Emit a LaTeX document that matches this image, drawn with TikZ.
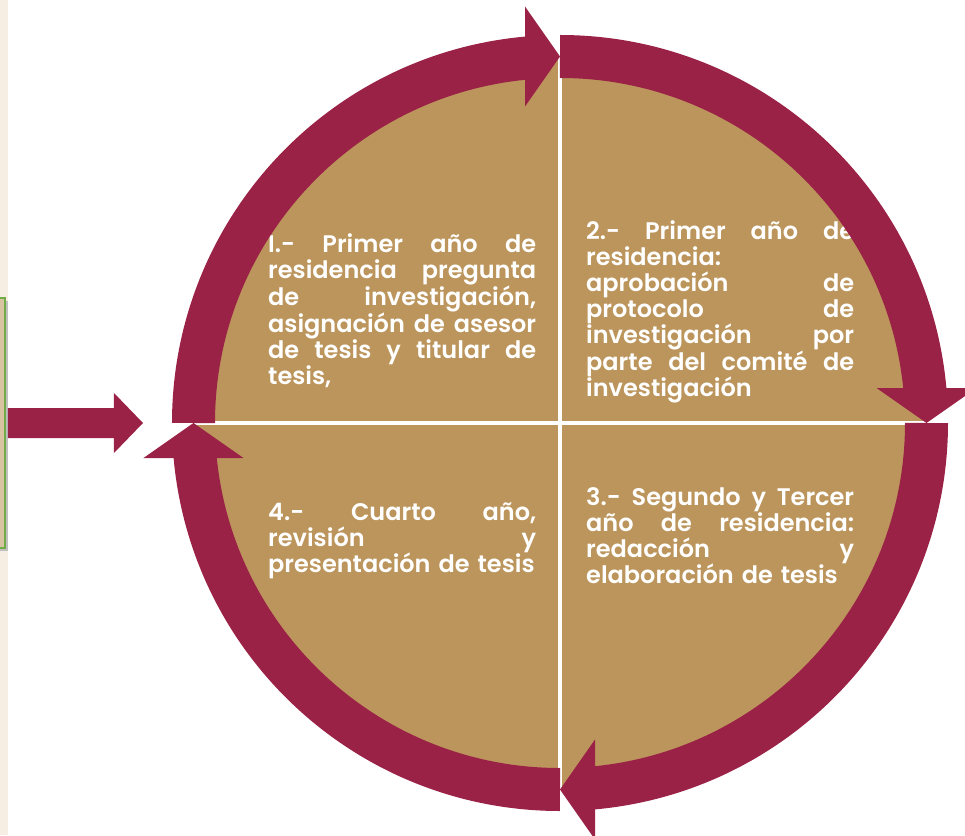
\documentclass[tikz,border=0pt]{standalone}
\usepackage{fontspec}
\usepackage{xcolor}
\newfontfamily\stagefont{Poppins SemiBold}
\definecolor{guinda}{RGB}{155,34,71}
\definecolor{dorado}{RGB}{188,149,92}
\definecolor{arena}{RGB}{216,196,160}
\definecolor{marco}{RGB}{112,173,71}
\definecolor{franja}{RGB}{246,238,226}
\newcommand{\jl}[1]{\leavevmode\hbox to 268pt{\spaceskip=\fontdimen2\font plus 1fil\relax #1}}

\begin{document}
\begin{tikzpicture}[x=1pt,y=1pt,
    etapa/.style={anchor=north west,inner sep=0pt,text width=268pt,align=left,
      text=white,font=\stagefont\fontsize{24}{26}\selectfont}]
			\useasboundingbox (-560,-412) rectangle (405,423);
			\clip (-560,-412) rectangle (405,423);
			\fill[franja] (-560,-412) rectangle (-552,423);
			\fill[black!25] (-567,-128) rectangle (-552,122);
			\draw[marco,fill=arena,line width=2pt] (-570,-125) rectangle (-555,125);
			\fill[guinda] (-552,15) -- (-446,15) -- (-446,30) -- (-417,0) -- (-446,-30) -- (-446,-15) -- (-552,-15) -- cycle;
			\fill[dorado] (0,0) circle (370);
			\draw[white,line width=4.5pt] (0,-390) -- (0,390);
			\draw[white,line width=4.5pt] (-390,0) -- (390,0);
			\node[etapa] (e1) at (-292,189.5) {\jl{I.- Primer año de}\\ \jl{residencia pregunta}\\ \jl{de investigación,}\\ \jl{asignación de asesor}\\ \jl{de tesis y titular de}\\ tesis,};
			\node[etapa] (e2) at (26,202.4) {\jl{2.- Primer año de}\\ residencia:\\ \jl{aprobación de}\\ \jl{protocolo de}\\ \jl{investigación por}\\ \jl{parte del comité de}\\ investigación};
			\node[etapa] (e3) at (26,-64.6) {\jl{3.- Segundo y Tercer}\\ \jl{año de residencia:}\\ \jl{redacción y}\\ elaboración de tesis};
			\node[etapa] (e4) at (-292,-79.6) {\jl{4.- Cuarto año,}\\ \jl{revisión y}\\ presentación de tesis};
			\foreach \a in {90,0,-90,-180}{
				\draw[guinda,line width=43pt] (\a+90:366.5) arc[start angle=\a+90,end angle=\a+4.5,radius=366.5];
				\fill[guinda] ([shift={(\a+90:35)}]\a:416.5) -- (\a:366.5) -- ([shift={(\a+90:35)}]\a:316.5) -- cycle;
			}
		\end{tikzpicture}
\end{document}
